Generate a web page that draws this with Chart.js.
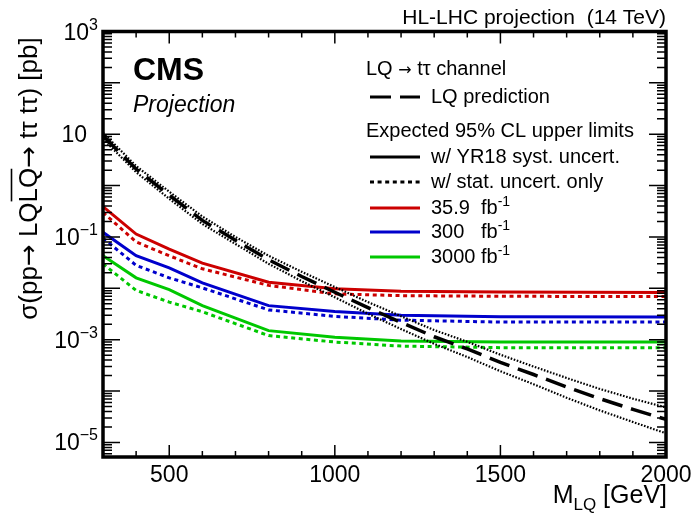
<!DOCTYPE html>
<html>
<head>
<meta charset="utf-8">
<script src="https://cdn.jsdelivr.net/npm/chart.js@4.4.0/dist/chart.umd.min.js"></script>
<style>
  html, body { margin: 0; padding: 0; background: #fff; }
  canvas { display: block; }
</style>
</head>
<body>
<canvas id="LimitPlot" width="691" height="514"></canvas>
<script>
const FONT = '"Liberation Sans", Arial, Helvetica, sans-serif';
const ARROW_FONT = '"DejaVu Sans", sans-serif';

// LQ pair production cross section [pb] with its uncertainty band
const massPred = [300, 400, 500, 600, 700, 800, 900, 1000, 1100, 1200, 1300, 1400, 1500, 1600, 1700, 1800, 1900, 2000];
const xsecPred = [9.3, 2.1, 0.65, 0.21, 0.086, 0.036, 0.017, 0.0084, 0.0042, 0.00217, 0.00114, 6.6e-4, 3.6e-4, 2.1e-4, 1.2e-4, 7.1e-5, 4.4e-5, 2.8e-5];
const xsecPredUp = [10.7, 2.41, 0.76, 0.25, 0.10, 0.043, 0.021, 0.0106, 0.0054, 0.00286, 0.00154, 9.1e-4, 5.1e-4, 3.0e-4, 1.8e-4, 1.1e-4, 7.1e-5, 4.8e-5];
const xsecPredDown = [8.1, 1.83, 0.553, 0.179, 0.073, 0.030, 0.0138, 0.0067, 0.0032, 0.00161, 8.3e-4, 4.6e-4, 2.43e-4, 1.36e-4, 7.4e-5, 4.2e-5, 2.5e-5, 1.5e-5];

// Expected 95% CL upper limits [pb]
const massLimit = [300, 400, 500, 600, 800, 1000, 1200, 1500, 2000];
const lim359Syst = [0.39, 0.114, 0.058, 0.031, 0.0131, 0.0098, 0.0088, 0.0085, 0.0083];
const lim359Stat = [0.30, 0.080, 0.043, 0.024, 0.0114, 0.0078, 0.0072, 0.0070, 0.0069];
const lim300Syst = [0.123, 0.043, 0.025, 0.0128, 0.0046, 0.00355, 0.0030, 0.0028, 0.00275];
const lim300Stat = [0.095, 0.028, 0.016, 0.0102, 0.0038, 0.00284, 0.0024, 0.0022, 0.0022];
const lim3000Syst = [0.043, 0.016, 0.0094, 0.0046, 0.0015, 0.00112, 0.00094, 0.0009, 0.0009];
const lim3000Stat = [0.030, 0.0091, 0.0054, 0.0035, 0.0012, 0.0009, 0.00075, 0.0007, 0.0007];

// axis labels
const xLabels = [500, 1000, 1500, 2000];
const yLabelExp = [3, 1, -1, -3, -5];

const red = '#cc0000';
const blue = '#0000cc';
const green = '#00c800';
const statDash = [4, 3.6];
const predDash = [21, 9];
const bandDash = [1.6, 1.6];

function points(xs, ys) {
    return xs.map((m, i) => ({ x: m, y: ys[i] }));
}

function line(data, color, dash, width) {
    return {
        data: data,
        borderColor: color,
        borderDash: dash,
        borderWidth: width,
        pointRadius: 0,
        tension: 0,
        fill: false
    };
}

// draws base text followed by a shifted smaller piece, returns end x
function scripted(ctx, x, y, base, script, size, scriptSize, shift) {
    ctx.font = size + 'px ' + FONT;
    ctx.fillText(base, x, y);
    let w = ctx.measureText(base).width;
    if (script) {
        ctx.font = scriptSize + 'px ' + FONT;
        ctx.fillText(script, x + w, y + shift);
        w += ctx.measureText(script).width;
    }
    return x + w;
}

function scriptedWidth(ctx, base, script, size, scriptSize) {
    ctx.font = size + 'px ' + FONT;
    let w = ctx.measureText(base).width;
    if (script) {
        ctx.font = scriptSize + 'px ' + FONT;
        w += ctx.measureText(script).width;
    }
    return w;
}

// runs of [text, font]; returns total width, draws when draw is true
function runs(ctx, parts, x, y, draw) {
    let w = 0;
    parts.forEach(([txt, font]) => {
        ctx.font = font;
        if (draw) ctx.fillText(txt, x + w, y);
        w += ctx.measureText(txt).width;
    });
    return w;
}

function sample(ctx, y, color, dash, width) {
    ctx.save();
    ctx.strokeStyle = color;
    ctx.lineWidth = width;
    ctx.setLineDash(dash);
    ctx.beginPath();
    ctx.moveTo(370, y);
    ctx.lineTo(420, y);
    ctx.stroke();
    ctx.restore();
}

const rootStyle = {
    id: 'rootStyle',
    afterDraw(chart) {
        const ctx = chart.ctx;
        const a = chart.chartArea;
        const xs = chart.scales.x;
        const ys = chart.scales.y;
        ctx.save();
        ctx.strokeStyle = 'black';
        ctx.fillStyle = 'black';
        ctx.setLineDash([]);

        // inward ticks on all four sides
        ctx.lineWidth = 1.5;
        ctx.beginPath();
        for (let m = 300; m <= 2000; m += 100) {
            const px = xs.getPixelForValue(m);
            const len = m % 500 === 0 ? 12 : 6;
            ctx.moveTo(px, a.bottom);
            ctx.lineTo(px, a.bottom - len);
            ctx.moveTo(px, a.top);
            ctx.lineTo(px, a.top + len);
        }
        for (let e = -6; e <= 3; e++) {
            for (let k = 1; k <= 9; k++) {
                const v = k * Math.pow(10, e);
                if (v < ys.min || v > ys.max * 1.0001) continue;
                const py = ys.getPixelForValue(v);
                const len = k === 1 ? 17 : 9;
                ctx.moveTo(a.left, py);
                ctx.lineTo(a.left + len, py);
                ctx.moveTo(a.right, py);
                ctx.lineTo(a.right - len, py);
            }
        }
        ctx.stroke();

        ctx.lineWidth = 3.5;
        ctx.strokeRect(a.left, a.top, a.right - a.left, a.bottom - a.top);

        // x tick labels
        ctx.font = '23px ' + FONT;
        ctx.textAlign = 'center';
        ctx.textBaseline = 'alphabetic';
        xLabels.forEach(m => ctx.fillText(String(m), xs.getPixelForValue(m), 482));

        // y tick labels 10^n
        ctx.textAlign = 'left';
        yLabelExp.forEach(e => {
            const py = ys.getPixelForValue(Math.pow(10, e));
            const exp = e === 1 ? '' : String(e).replace('-', '\u2212');
            const w = scriptedWidth(ctx, '10', exp, 23, 16);
            const right = exp ? 98 : 87;
            scripted(ctx, right - w, py + 8, '10', exp, 23, 16, -10);
        });

        // x axis title
        const xw = scriptedWidth(ctx, 'M', 'LQ', 25, 17);
        ctx.font = '25px ' + FONT;
        const gw = ctx.measureText(' [GeV]').width;
        let tx = 667 - xw - gw;
        tx = scripted(ctx, tx, 503, 'M', 'LQ', 25, 17, 7);
        ctx.font = '25px ' + FONT;
        ctx.fillText(' [GeV]', tx, 503);

        // y axis title with the anti-LQ overline
        ctx.save();
        ctx.translate(36.5, 178.5);
        ctx.rotate(-Math.PI / 2);
        const tf = '26px ' + FONT;
        const af = '26px ' + ARROW_FONT;
        const head = [['\u03c3(pp', tf], ['\u2192', af], [' LQ', tf]];
        const bar = [['LQ', tf]];
        const tail = [['\u2192', af], [' t\u03c4 t\u03c4) [pb]', tf]];
        const w1 = runs(ctx, head, 0, 0, false);
        const w2 = runs(ctx, bar, 0, 0, false);
        const w3 = runs(ctx, tail, 0, 0, false);
        const yx = -(w1 + w2 + w3) / 2;
        runs(ctx, head, yx, 0, true);
        runs(ctx, bar, yx + w1, 0, true);
        runs(ctx, tail, yx + w1 + w2, 0, true);
        ctx.lineWidth = 1.6;
        ctx.beginPath();
        ctx.moveTo(yx + w1 + 1, -25);
        ctx.lineTo(yx + w1 + w2 - 1, -25);
        ctx.stroke();
        ctx.restore();

        // header texts
        ctx.font = '21px ' + FONT;
        ctx.textAlign = 'right';
        ctx.fillText('HL-LHC projection  (14 TeV)', 666, 24);
        ctx.textAlign = 'left';
        ctx.font = 'bold 32px ' + FONT;
        ctx.fillText('CMS', 133, 80);
        ctx.font = 'italic 23px ' + FONT;
        ctx.fillText('Projection', 133, 111.5);

        // legend
        runs(ctx, [['LQ ', '20px ' + FONT], ['\u2192', '16px ' + ARROW_FONT], [' t\u03c4 channel', '20px ' + FONT]], 366, 75, true);
        ctx.font = '20px ' + FONT;
        sample(ctx, 97, 'black', predDash, 3);
        ctx.fillText('LQ prediction', 431, 103);
        ctx.fillText('Expected 95% CL upper limits', 366, 137);
        sample(ctx, 157, 'black', [], 3);
        ctx.fillText('w/ YR18 syst. uncert.', 431, 163);
        sample(ctx, 182, 'black', statDash, 3);
        ctx.fillText('w/ stat. uncert. only', 431, 188);
        const lumis = [['35.9', red, 208], ['300', blue, 232], ['3000', green, 257]];
        lumis.forEach(([lumi, color, y]) => {
            sample(ctx, y, color, [], 3);
            ctx.font = '20px ' + FONT;
            ctx.fillText(lumi, 431, y + 6);
            scripted(ctx, 481, y + 6, 'fb', '-1', 20, 14, -8);
        });

        ctx.restore();
    }
};

new Chart(document.getElementById('LimitPlot'), {
    type: 'line',
    data: {
        datasets: [
            line(points(massPred, xsecPred), 'black', predDash, 3.5),
            line(points(massPred, xsecPredUp), 'black', bandDash, 2.2),
            line(points(massPred, xsecPredDown), 'black', bandDash, 2.2),
            line(points(massLimit, lim359Syst), red, [], 3),
            line(points(massLimit, lim359Stat), red, statDash, 3),
            line(points(massLimit, lim300Syst), blue, [], 3),
            line(points(massLimit, lim300Stat), blue, statDash, 3),
            line(points(massLimit, lim3000Syst), green, [], 3),
            line(points(massLimit, lim3000Stat), green, statDash, 3)
        ]
    },
    options: {
        responsive: false,
        animation: false,
        devicePixelRatio: 1,
        layout: { padding: { left: 103, top: 31.5, right: 25, bottom: 57 } },
        scales: {
            x: { type: 'linear', min: 300, max: 2000, display: false },
            y: { type: 'logarithmic', min: 5.2e-6, max: 1000, display: false }
        },
        plugins: {
            legend: { display: false },
            tooltip: { enabled: false }
        }
    },
    plugins: [rootStyle]
});
</script>
</body>
</html>
